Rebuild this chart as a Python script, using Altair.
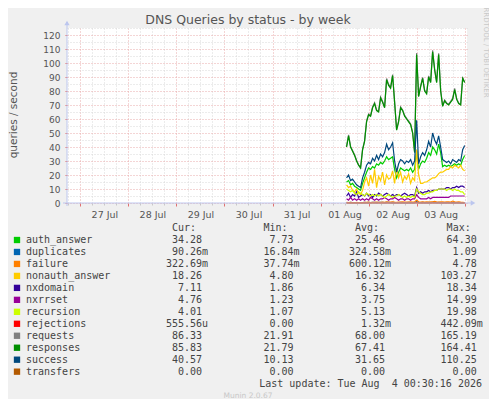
import altair as alt
import pandas as pd

# ---------------- data ----------------
TITLE = "DNS Queries by status - by week"
Y_TITLE = "queries / second"
SIDE_TEXT = "RRDTOOL / TOBI OETIKER"
FOOTER_UPDATE = "Last update: Tue Aug\u00a0 4 00:30:16 2026"
FOOTER_MUNIN = "Munin 2.0.67"
HEADERS = ["Cur:", "Min:", "Avg:", "Max:"]

SERIES = ["auth_answer", "duplicates", "failure", "nonauth_answer", "nxdomain", "nxrrset",
          "recursion", "rejections", "requests", "responses", "success", "transfers"]
COLORS = ["#00CC00", "#0066B3", "#FF8000", "#FFCC00", "#330099", "#990099",
          "#CCFF00", "#FF0000", "#808080", "#008F00", "#00487D", "#B35A00"]
CUR = ["34.28", "90.26m", "322.69m", "18.26", "7.11", "4.76", "4.01", "555.56u", "86.33", "85.83", "40.57", "0.00"]
MIN = ["7.73", "16.84m", "37.74m", "4.80", "1.86", "1.23", "1.07", "0.00", "21.91", "21.79", "10.13", "0.00"]
AVG = ["25.46", "324.58m", "600.12m", "16.32", "6.34", "3.75", "5.13", "1.32m", "68.00", "67.41", "31.65", "0.00"]
MAX = ["64.30", "1.09", "4.78", "103.27", "18.34", "14.99", "19.98", "442.09m", "165.19", "164.41", "110.25", "0.00"]

# hourly samples, 2026-08-01 13:00 UTC .. 2026-08-04 00:00 UTC
T_START = "2026-08-01 13:00"
N_POINTS = 60

auth_answer = [15, 16, 13, 14, 12, 11, 10, 9, 14, 18,
               22, 25, 24, 26, 25, 28, 27, 29, 28, 30,
               33, 31, 32, 33, 24, 18, 22, 25, 24, 23,
               24, 23, 25, 22, 24, 38, 24, 28, 30, 29,
               32, 36, 34, 40, 38, 35, 42, 36, 26, 27,
               26, 27, 26, 27, 28, 27, 28, 27, 31, 34]
duplicates = [0.3, 0.2, 0.4, 0.3, 0.2, 0.3, 0.2, 0.2, 0.3, 0.4,
              0.3, 0.4, 0.3, 0.5, 0.4, 0.3, 0.4, 0.5, 0.4, 0.3,
              0.5, 0.4, 0.3, 0.4, 0.3, 0.2, 0.3, 0.4, 0.3, 0.3,
              0.3, 0.4, 0.3, 0.3, 0.2, 0.9, 0.4, 0.3, 0.4, 0.3,
              0.3, 0.4, 0.3, 0.5, 0.4, 0.3, 0.4, 0.3, 0.2, 0.2,
              0.2, 0.3, 0.2, 0.2, 0.3, 0.2, 0.2, 0.1, 0.1, 0.1]
failure = [0.4, 0.3, 0.5, 0.3, 0.2, 0.4, 0.3, 0.2, 0.3, 0.5,
           0.4, 0.6, 0.3, 0.5, 0.4, 0.7, 0.5, 0.4, 0.6, 0.5,
           0.8, 0.6, 0.7, 0.9, 0.6, 0.5, 0.7, 0.6, 0.8, 0.7,
           0.6, 0.7, 0.8, 0.6, 0.7, 2.1, 0.9, 0.7, 0.8, 0.7,
           0.8, 0.7, 0.9, 0.8, 1.2, 0.8, 0.7, 0.9, 0.8, 0.7,
           0.8, 0.9, 0.7, 1.4, 0.8, 0.7, 0.9, 0.6, 0.5, 0.3]
nonauth_answer = [13, 11, 12, 9, 8, 10, 7, 6, 9, 15,
                  18, 12, 20, 14, 24, 11, 19, 16, 22, 13,
                  20, 17, 18, 23, 14, 25, 18, 22, 15, 19,
                  17, 21, 14, 18, 16, 38, 20, 14, 14, 15,
                  15, 16, 17, 18, 18, 19, 21, 22, 22, 23,
                  24, 24, 26, 25, 27, 26, 25, 27, 24, 23]
nxdomain = [5, 7, 4, 6, 5, 8, 4, 5, 6, 5,
            7, 5, 6, 4, 6, 5, 7, 6, 5, 6,
            7, 6, 5, 6, 5, 6, 6, 5, 6, 7,
            6, 5, 6, 6, 5, 11, 7, 8, 7, 8,
            8, 9, 8, 9, 9, 9, 10, 10, 10, 10,
            11, 11, 10, 11, 11, 12, 11, 12, 12, 11]
nxrrset = [3, 2, 4, 2, 3, 2, 3, 2, 3, 2,
           3, 2, 4, 3, 2, 3, 2, 3, 3, 4,
           3, 2, 3, 3, 4, 3, 2, 3, 3, 2,
           3, 3, 2, 3, 3, 6, 4, 3, 3, 3,
           3, 4, 3, 4, 4, 4, 4, 4, 4, 4,
           4, 4, 5, 5, 5, 5, 5, 5, 5, 5]
recursion = [10, 9, 8, 9, 7, 6, 8, 7, 6, 5,
             7, 6, 5, 6, 5, 6, 5, 6, 5, 4,
             5, 6, 5, 4, 5, 5, 6, 5, 4, 5,
             4, 5, 4, 5, 4, 10, 8, 7, 6, 6,
             7, 7, 8, 8, 9, 9, 10, 10, 10, 10,
             9, 10, 10, 9, 10, 9, 9, 8, 8, 6]
rejections = [0, 0, 0, 0, 0, 0, 0, 0, 0, 0,
              0, 0, 0, 0, 0, 0, 0, 0, 0, 0,
              0, 0, 0, 0, 0, 0, 0, 0, 0, 0,
              0, 0, 0, 0, 0, 0.4, 0, 0, 0, 0,
              0, 0, 0, 0, 0, 0, 0, 0, 0, 0,
              0, 0, 0, 0, 0, 0, 0, 0, 0, 0]
requests = [40.5, 48.6, 40.4, 37.5, 34.4, 30.5, 27.3, 25.4, 38.5, 44.6,
            58.7, 63.6, 62.5, 68.8, 71.6, 66.5, 65.7, 75.8, 72.6, 68.5,
            88.9, 84.7, 82.6, 91.8, 72.5, 52.4, 58.6, 68.7, 66.5, 62.6,
            60.5, 58.6, 56.5, 50.4, 36.3, 107.2, 76.6, 83.7, 89.8, 80.6,
            78.7, 90.8, 86.6, 109.1, 95.8, 86.6, 107.0, 80.7, 69.5, 73.6,
            71.5, 70.6, 72.6, 74.7, 81.8, 74.6, 71.5, 70.6, 89.7, 86.3]
responses = [40, 48, 40, 37, 34, 30, 27, 25, 38, 44,
             58, 63, 62, 68, 71, 66, 65, 75, 72, 68,
             88, 84, 82, 91, 72, 52, 58, 68, 66, 62,
             60, 58, 56, 50, 36, 106, 76, 83, 89, 80,
             78, 90, 86, 108, 95, 86, 106, 80, 69, 73,
             71, 70, 72, 74, 81, 74, 71, 70, 89, 86]
success = [18, 20, 16, 17, 15, 13, 12, 11, 18, 22,
           27, 29, 28, 32, 30, 34, 31, 35, 33, 36,
           42, 38, 40, 43, 30, 22, 28, 31, 30, 28,
           30, 29, 31, 27, 30, 59, 28, 33, 36, 34,
           38, 44, 40, 50, 45, 42, 48, 40, 31, 30,
           29, 30, 28, 31, 30, 29, 31, 30, 38, 41]
transfers = [0] * N_POINTS

VALUES = [auth_answer, duplicates, failure, nonauth_answer, nxdomain, nxrrset,
          recursion, rejections, requests, responses, success, transfers]

# ---------------- layout constants ----------------
def ms(s):
    return int(pd.Timestamp(s, tz="UTC").value // 10**6)

X_MIN = ms("2026-07-26 17:20")
X_MAX = ms("2026-08-04 01:10")
MAJOR_X = [ms(f"2026-07-{d} 00:00") for d in range(27, 32)] + [ms(f"2026-08-0{d} 00:00") for d in range(1, 5)]
LABEL_X = [ms(f"2026-07-{d} 12:00") for d in range(27, 32)] + [ms(f"2026-08-0{d} 12:00") for d in range(1, 4)]
MINOR_X = [v for v in range(ms("2026-07-26 18:00"), ms("2026-08-04 00:30"), 6 * 3600 * 1000) if v not in MAJOR_X]
MAJOR_Y = list(range(0, 121, 10))
MINOR_Y = list(range(5, 126, 10))

AXIS_BLUE = "#bcc6ee"
RED_GRID = "#e9aaaa"
GRAY_GRID = "#d8d8d8"
TXT = "#444444"
ROW0, ROW_STEP = 212.0, 11.97
COL_END = [135.0, 226.5, 318.0, 409.7]
CHAR_W = 6.0
MONO = "DejaVu Sans Mono"
SANS = "DejaVu Sans"

# ---------------- tables ----------------
times = pd.date_range(T_START, periods=N_POINTS, freq="h", tz="UTC")
t_ms = [int(t.value // 10**6) for t in times]
rows = []
for name, vals in zip(SERIES, VALUES):
    for t, v in zip(t_ms, vals):
        rows.append({"series": name, "t": t, "v": v})
df = pd.DataFrame(rows)

leg = pd.DataFrame({"name": SERIES, "color": COLORS, "row": list(range(len(SERIES)))})
leg["py"] = ROW0 + ROW_STEP * leg["row"]

num_rows = []
for c, col in enumerate([CUR, MIN, AVG, MAX]):
    for i, s in enumerate(col):
        num = s.rstrip("mu")
        num_rows.append({"py": ROW0 + ROW_STEP * i, "px": COL_END[c], "num": num, "suf": s[len(num):]})
nums = pd.DataFrame(num_rows)
sufs = nums[nums["suf"] != ""]
heads = pd.DataFrame({"h": HEADERS, "px": [c - CHAR_W for c in COL_END], "py": [ROW0 - 12.5] * 4})

one = alt.Data(values=[{"a": 1}])
xs = alt.Scale(type="utc", domain=[X_MIN, X_MAX], nice=False)
ys = alt.Scale(domain=[0, 125], nice=False, zero=True)

# ---------------- layers ----------------
lines = alt.Chart(df).mark_line(strokeWidth=1.2).encode(
    x=alt.X("t:T", scale=xs, axis=alt.Axis(values=MINOR_X, grid=True, gridColor=GRAY_GRID, gridDash=[1, 2],
                                           labels=False, ticks=True, tickColor="#c8c8c8", tickSize=2,
                                           domain=False, title=None, orient="bottom")),
    y=alt.Y("v:Q", scale=ys, axis=alt.Axis(values=MINOR_Y, grid=True, gridColor=GRAY_GRID, gridDash=[1, 2],
                                           labels=False, ticks=False, domain=False, title=None, orient="left")),
    color=alt.Color("series:N", scale=alt.Scale(domain=SERIES, range=COLORS), legend=None),
)

major = alt.Chart(alt.Data(values=[{"t": X_MIN, "v": 0}])).mark_point(opacity=0).encode(
    x=alt.X("t:T", scale=xs, axis=alt.Axis(values=MAJOR_X, grid=True, gridColor=RED_GRID, gridDash=[1, 2],
                                           labels=False, ticks=True, tickColor="#e07070", tickSize=3,
                                           domain=False, title=None, orient="bottom")),
    y=alt.Y("v:Q", scale=ys, axis=alt.Axis(values=MAJOR_Y, grid=True, gridColor=RED_GRID, gridDash=[1, 2],
                                           labels=True, labelFont=SANS, labelFontSize=9, labelColor="#555555",
                                           labelPadding=5, ticks=True, tickColor="#e07070", tickSize=2,
                                           domain=False, title=None, orient="left")),
)

xlabels = alt.Chart(alt.Data(values=[{"t": X_MIN, "v": 0}])).mark_point(opacity=0).encode(
    x=alt.X("t:T", scale=xs, axis=alt.Axis(values=LABEL_X, grid=False, ticks=False, domain=False,
                                           labelExpr="utcFormat(datum.value, '%d %b')",
                                           labelFont=SANS, labelFontSize=9.5, labelColor="#555555",
                                           labelPadding=6, title=None, orient="bottom")),
    y=alt.Y("v:Q", scale=ys, axis=None),
)

vrule = alt.Chart(one).mark_rule(color=AXIS_BLUE, strokeWidth=1).encode(
    x=alt.value(0), y=alt.value(-6), y2=alt.value(178))
hrule = alt.Chart(one).mark_rule(color=AXIS_BLUE, strokeWidth=1).encode(
    x=alt.value(-4), x2=alt.value(404), y=alt.value(175))
up_arrow = alt.Chart(one).mark_point(shape="triangle-up", filled=True, size=28, color=AXIS_BLUE, opacity=1).encode(
    x=alt.value(0), y=alt.value(-5))
right_arrow = alt.Chart(one).mark_point(shape="triangle-right", filled=True, size=28, color=AXIS_BLUE, opacity=1).encode(
    x=alt.value(406), y=alt.value(175))

title = alt.Chart(one).mark_text(font=SANS, fontSize=12.5, color="#555555", baseline="middle", align="center").encode(
    x=alt.value(181), y=alt.value(-8.5), text=alt.value(TITLE))
ytitle = alt.Chart(one).mark_text(font=SANS, fontSize=10.5, color="#555555", angle=270, baseline="middle", align="center").encode(
    x=alt.value(-53.5), y=alt.value(87), text=alt.value(Y_TITLE))
side = alt.Chart(one).mark_text(font=SANS, fontSize=7, color="#c8c8c8", angle=90, baseline="middle", align="center").encode(
    x=alt.value(418.5), y=alt.value(24.5), text=alt.value(SIDE_TEXT))

squares = alt.Chart(leg).mark_square(size=40, opacity=1).encode(
    x=alt.value(-50), y=alt.Y("py:Q", scale=None, axis=None),
    color=alt.Color("color:N", scale=None, legend=None))
names = alt.Chart(leg).mark_text(font=MONO, fontSize=10, color=TXT, align="left", baseline="middle").encode(
    x=alt.value(-41), y=alt.Y("py:Q", scale=None, axis=None), text="name:N")
numbers = alt.Chart(nums).mark_text(font=MONO, fontSize=10, color=TXT, align="right", baseline="middle").encode(
    x=alt.X("px:Q", scale=None, axis=None), y=alt.Y("py:Q", scale=None, axis=None), text="num:N")
suffixes = alt.Chart(sufs).mark_text(font=MONO, fontSize=10, color=TXT, align="left", baseline="middle").encode(
    x=alt.X("px:Q", scale=None, axis=None), y=alt.Y("py:Q", scale=None, axis=None), text="suf:N")
headers = alt.Chart(heads).mark_text(font=MONO, fontSize=10, color=TXT, align="right", baseline="middle").encode(
    x=alt.X("px:Q", scale=None, axis=None), y=alt.Y("py:Q", scale=None, axis=None), text="h:N")
update = alt.Chart(one).mark_text(font=MONO, fontSize=10, color=TXT, align="right", baseline="middle").encode(
    x=alt.value(415), y=alt.value(355.5), text=alt.value(FOOTER_UPDATE))
munin = alt.Chart(one).mark_text(font=SANS, fontSize=7.5, color="#c8c8c8", align="center", baseline="middle").encode(
    x=alt.value(181), y=alt.value(368), text=alt.value(FOOTER_MUNIN))

chart = alt.layer(
    lines, major, xlabels, vrule, hrule, up_arrow, right_arrow,
    title, ytitle, side, squares, names, numbers, suffixes, headers, update, munin
).resolve_axis(x="independent", y="independent").properties(
    width=400, height=175,
    autosize=alt.AutoSizeParams(type="none"),
    padding={"left": 59, "top": 20, "right": 22, "bottom": 196},
    background="#F0F0F0",
).configure_view(fill="white", stroke=None)

chart.save("out.html", embed_options={"renderer": "svg", "actions": False})
